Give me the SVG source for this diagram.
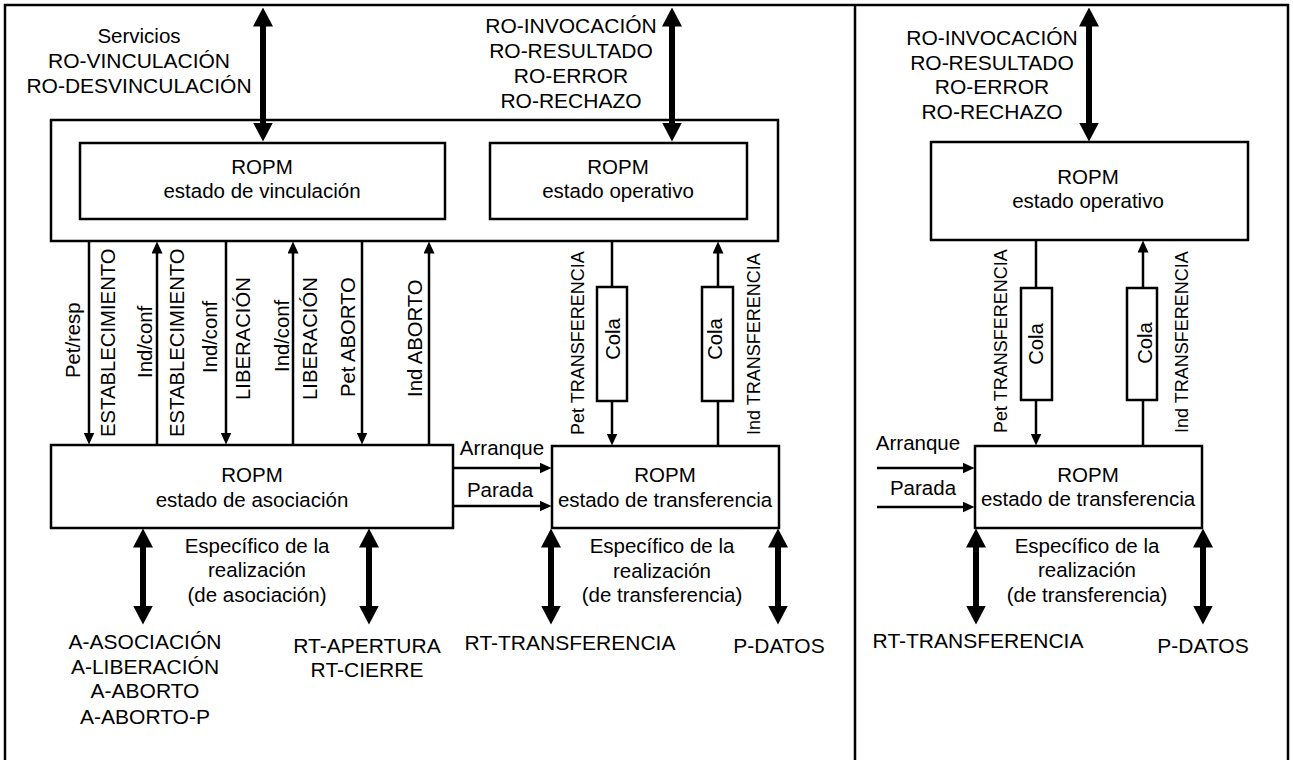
<svg xmlns="http://www.w3.org/2000/svg" width="1293" height="760" viewBox="0 0 1293 760">
<style>
.box{fill:#fff;stroke:#000;stroke-width:2.5}
.frame{fill:none;stroke:#000;stroke-width:2.5}
.t{font-family:"Liberation Sans",Arial,sans-serif;font-size:20.5px;fill:#000;text-anchor:middle}
.c{font-size:21px}
.ts{font-family:"Liberation Sans",Arial,sans-serif;font-size:18px;fill:#000}
.vs{font-family:"Liberation Sans",Arial,sans-serif;font-size:20.3px;fill:#000}
.thin{stroke:#000;stroke-width:2.5;fill:none}
.ta{stroke:#000;stroke-width:2.5;fill:none;marker-end:url(#ah)}
.thick{stroke:#000;stroke-width:6;fill:none;marker-start:url(#bh);marker-end:url(#bh)}
</style>
<defs>
<marker id="ah" markerUnits="userSpaceOnUse" markerWidth="12" markerHeight="11" viewBox="0 0 12 11" refX="0.5" refY="5.5" orient="auto"><path d="M0,0 L12,5.5 L0,11 z" fill="#000"/></marker>
<marker id="bh" markerUnits="userSpaceOnUse" markerWidth="19" markerHeight="20" viewBox="0 0 19 20" refX="0.5" refY="10" orient="auto-start-reverse"><path d="M0,0 L19,10 L0,20 z" fill="#000"/></marker>
</defs>
<rect width="1293" height="760" fill="#fff"/>
<g id="frame">
<rect class="frame" x="5" y="5" width="1283" height="800"/>
<line class="thin" x1="855" y1="5" x2="855" y2="760"/>
</g>
<g id="upper-box"><rect class="box" x="51" y="120" width="727" height="121"/></g>
<g id="ropm-vinculacion"><rect class="box" x="80" y="143" width="365" height="76"/>
<text class="t" x="262" y="174">ROPM</text><text class="t" x="262" y="198">estado de vinculación</text></g>
<g id="ropm-operativo-1"><rect class="box" x="490" y="143" width="257" height="76"/>
<text class="t" x="618" y="174">ROPM</text><text class="t" x="618" y="198">estado operativo</text></g>
<g id="ropm-asociacion"><rect class="box" x="51" y="445" width="402" height="83"/>
<text class="t" x="252" y="482">ROPM</text><text class="t" x="252" y="507">estado de asociación</text></g>
<g id="ropm-transferencia-1"><rect class="box" x="552" y="446" width="227" height="82"/>
<text class="t" x="665" y="482">ROPM</text><text class="t" x="665" y="507">estado de transferencia</text></g>
<g id="cola-1"><rect class="box" x="597" y="287" width="30" height="114"/>
<text class="vs" text-anchor="middle" transform="translate(620,339) rotate(-90)">Cola</text></g>
<g id="cola-2"><rect class="box" x="702" y="287" width="31" height="114"/>
<text class="vs" text-anchor="middle" transform="translate(722,339) rotate(-90)">Cola</text></g>
<g id="ropm-operativo-2"><rect class="box" x="931" y="142" width="317" height="98"/>
<text class="t" x="1088" y="184">ROPM</text><text class="t" x="1088" y="208">estado operativo</text></g>
<g id="ropm-transferencia-2"><rect class="box" x="975" y="446" width="227" height="82"/>
<text class="t" x="1088" y="482">ROPM</text><text class="t" x="1088" y="506">estado de transferencia</text></g>
<g id="cola-3"><rect class="box" x="1021" y="288" width="31" height="112"/>
<text class="vs" text-anchor="middle" transform="translate(1043,344) rotate(-90)">Cola</text></g>
<g id="cola-4"><rect class="box" x="1127" y="288" width="30" height="112"/>
<text class="vs" text-anchor="middle" transform="translate(1152,343) rotate(-90)">Cola</text></g>
<g id="connectors">
<line class="thick" x1="263" y1="26" x2="263" y2="123"/>
<line class="thick" x1="672" y1="26" x2="672" y2="123"/>
<line class="thick" x1="1089" y1="26" x2="1089" y2="123"/>
<line class="thick" x1="143" y1="547" x2="143" y2="606"/>
<line class="thick" x1="369" y1="547" x2="369" y2="606"/>
<line class="thick" x1="551" y1="547" x2="551" y2="606"/>
<line class="thick" x1="778" y1="547" x2="778" y2="606"/>
<line class="thick" x1="976" y1="547" x2="976" y2="606"/>
<line class="thick" x1="1203" y1="547" x2="1203" y2="606"/>
<line class="ta" x1="89" y1="241" x2="89" y2="433"/>
<line class="ta" x1="157" y1="445" x2="157" y2="253"/>
<line class="ta" x1="226" y1="241" x2="226" y2="433"/>
<line class="ta" x1="293" y1="445" x2="293" y2="253"/>
<line class="ta" x1="362" y1="241" x2="362" y2="433"/>
<line class="ta" x1="429" y1="445" x2="429" y2="253"/>
<line class="thin" x1="612" y1="241" x2="612" y2="287"/>
<line class="ta" x1="612" y1="401" x2="612" y2="434"/>
<line class="thin" x1="718" y1="446" x2="718" y2="401"/>
<line class="ta" x1="718" y1="287" x2="718" y2="253"/>
<line class="thin" x1="1036" y1="240" x2="1036" y2="288"/>
<line class="ta" x1="1036" y1="400" x2="1036" y2="434"/>
<line class="thin" x1="1143" y1="446" x2="1143" y2="400"/>
<line class="ta" x1="1143" y1="288" x2="1143" y2="252"/>
<line class="ta" x1="453" y1="468" x2="540" y2="468"/>
<line class="ta" x1="453" y1="506" x2="540" y2="506"/>
<line class="ta" x1="877" y1="468" x2="963" y2="468"/>
<line class="ta" x1="877" y1="507" x2="963" y2="507"/>
</g>
<g id="labels">
<text class="t" x="139" y="43">Servicios</text>
<text class="t c" x="139" y="68">RO-VINCULACIÓN</text>
<text class="t c" x="139" y="93">RO-DESVINCULACIÓN</text>
<text class="t c" x="571" y="33">RO-INVOCACIÓN</text>
<text class="t c" x="571" y="58">RO-RESULTADO</text>
<text class="t c" x="571" y="83">RO-ERROR</text>
<text class="t c" x="571" y="108">RO-RECHAZO</text>
<text class="t c" x="992" y="45">RO-INVOCACIÓN</text>
<text class="t c" x="992" y="70">RO-RESULTADO</text>
<text class="t c" x="992" y="94">RO-ERROR</text>
<text class="t c" x="992" y="119">RO-RECHAZO</text>
<text class="vs" transform="translate(80,378) rotate(-90)">Pet/resp</text>
<text class="vs" transform="translate(115,437) rotate(-90)">ESTABLECIMIENTO</text>
<text class="vs" transform="translate(152,378) rotate(-90)">Ind/conf</text>
<text class="vs" transform="translate(184,437) rotate(-90)">ESTABLECIMIENTO</text>
<text class="vs" transform="translate(217,373) rotate(-90)">Ind/conf</text>
<text class="vs" transform="translate(250,400) rotate(-90)">LIBERACIÓN</text>
<text class="vs" transform="translate(289,372) rotate(-90)">Ind/conf</text>
<text class="vs" transform="translate(317,400) rotate(-90)">LIBERACIÓN</text>
<text class="vs" transform="translate(355,397) rotate(-90)">Pet ABORTO</text>
<text class="vs" transform="translate(422,397) rotate(-90)">Ind ABORTO</text>
<text class="ts" transform="translate(584,435) rotate(-90)">Pet TRANSFERENCIA</text>
<text class="ts" transform="translate(760,435) rotate(-90)">Ind TRANSFERENCIA</text>
<text class="ts" transform="translate(1007,433) rotate(-90)">Pet TRANSFERENCIA</text>
<text class="ts" transform="translate(1188,433) rotate(-90)">Ind TRANSFERENCIA</text>
<text class="t" x="502" y="455">Arranque</text>
<text class="t" x="500" y="497">Parada</text>
<text class="t" x="918" y="450">Arranque</text>
<text class="t" x="923" y="495">Parada</text>
<text class="t" x="257" y="553">Específico de la</text>
<text class="t" x="257" y="577">realización</text>
<text class="t" x="257" y="602">(de asociación)</text>
<text class="t" x="662" y="553">Específico de la</text>
<text class="t" x="662" y="578">realización</text>
<text class="t" x="662" y="602">(de transferencia)</text>
<text class="t" x="1087" y="553">Específico de la</text>
<text class="t" x="1087" y="577">realización</text>
<text class="t" x="1087" y="602">(de transferencia)</text>
<text class="t c" x="145" y="649">A-ASOCIACIÓN</text>
<text class="t c" x="145" y="674">A-LIBERACIÓN</text>
<text class="t c" x="145" y="698">A-ABORTO</text>
<text class="t c" x="145" y="724">A-ABORTO-P</text>
<text class="t c" x="367" y="653">RT-APERTURA</text>
<text class="t c" x="367" y="677">RT-CIERRE</text>
<text class="t c" x="570" y="650">RT-TRANSFERENCIA</text>
<text class="t c" x="779" y="653">P-DATOS</text>
<text class="t c" x="978" y="648">RT-TRANSFERENCIA</text>
<text class="t c" x="1203" y="653">P-DATOS</text>
</g>
</svg>
